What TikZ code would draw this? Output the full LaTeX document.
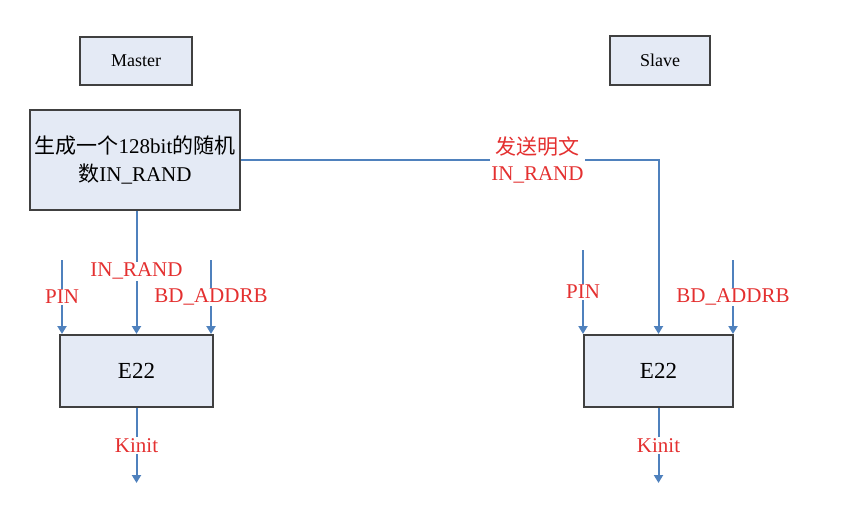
\documentclass[tikz,border=0pt]{standalone}
\usepackage{fontspec}
\setmainfont{Liberation Serif}
\newfontfamily\cjk{Noto Sans CJK SC}
\usetikzlibrary{arrows.meta,positioning}

\definecolor{boxfill}{RGB}{228,234,245}
\definecolor{boxline}{RGB}{64,64,64}
\definecolor{flowblue}{RGB}{79,129,189}
\definecolor{lblred}{RGB}{228,48,48}

\begin{document}
\begin{tikzpicture}[x=1pt,y=-1pt,
  blk/.style={draw=boxline,line width=2pt,fill=boxfill,align=center,inner sep=2pt},
  flow/.style={draw=flowblue,line width=2pt,-{Triangle[width=9pt,length=8pt]}},
  lbl/.style={fill=white,text=lblred,inner sep=1pt,align=center,
    font=\fontsize{21}{26}\selectfont}
]
  \useasboundingbox (0,0) rectangle (868,504);

  % titles
  \node[blk,minimum width=112pt,minimum height=48pt,font=\fontsize{18}{20}\selectfont]
    (master) at (136,61) {Master};
  \node[blk,minimum width=100pt,minimum height=49pt,font=\fontsize{18}{20}\selectfont]
    (slave) at (660,60.5) {Slave};

  % master side
  \node[blk,minimum width=210pt,minimum height=100pt,font=\fontsize{21}{28}\selectfont]
    (gen) at (135,160) {{\cjk 生成一个}128bit{\cjk 的随机}\\{\cjk 数}IN\_RAND};
  \node[blk,minimum width=153pt,minimum height=72pt,font=\fontsize{23}{26}\selectfont]
    (me22) at (136.5,371) {E22};
  \coordinate (mpin) at (62,260);
  \coordinate (maddr) at (211,260);
  \coordinate (mkey) at (136.5,483);

  \draw[flow] (mpin) -- node[lbl]{PIN} (me22.north -| mpin);
  \draw[flow] (maddr) -- node[lbl,pos=.5]{BD\_ADDRB} (me22.north -| maddr);
  \draw[flow] (gen.south -| me22.north) -- node[lbl,pos=.49]{IN\_RAND} (me22.north);
  \draw[flow] (me22.south) -- node[lbl]{Kinit} (mkey);

  % slave side
  \node[blk,minimum width=149pt,minimum height=72pt,font=\fontsize{23}{26}\selectfont]
    (se22) at (658.5,371) {E22};
  \coordinate (spin) at (583,250);
  \coordinate (saddr) at (733,260);
  \coordinate (skey) at (658.5,483);

  \draw[flow] (spin) -- node[lbl]{PIN} (se22.north -| spin);
  \draw[flow] (saddr) -- node[lbl]{BD\_ADDRB} (se22.north -| saddr);
  \draw[flow] (se22.south) -- node[lbl]{Kinit} (skey);

  % plaintext transfer
  \draw[flow] (gen.east) -- node[lbl,pos=.71]{{\cjk 发送明文}\\IN\_RAND}
    (gen.east -| se22.north) -- (se22.north);
\end{tikzpicture}
\end{document}
